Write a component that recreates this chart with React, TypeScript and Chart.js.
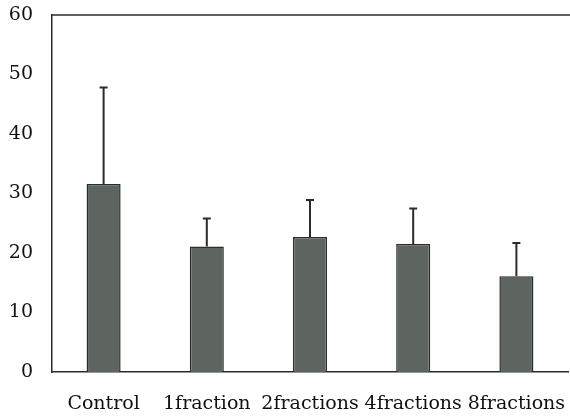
import React, { useEffect, useRef } from "react";
import { Chart, registerables } from "chart.js";

Chart.register(...registerables);

const categories = ["Control", "1fraction", "2fractions", "4fractions", "8fractions"];
const means = [31.6, 21.1, 22.7, 21.5, 16.1];
const errorTops = [47.8, 25.8, 28.9, 27.5, 21.7];
const yTicks = [0, 10, 20, 30, 40, 50, 60];

const errorBarPlugin = {
  id: "errorBars",
  afterDatasetsDraw(chart: any) {
    const { ctx, scales } = chart;
    const meta = chart.getDatasetMeta(0);
    const y = scales.y;
    ctx.save();
    ctx.strokeStyle = "#2b2b2b";
    ctx.lineWidth = 2;
    meta.data.forEach((bar: any, i: number) => {
      const x = bar.x;
      const yTop = y.getPixelForValue(errorTops[i]);
      const yBar = y.getPixelForValue(means[i]);
      ctx.beginPath();
      ctx.moveTo(x, yBar);
      ctx.lineTo(x, yTop);
      ctx.moveTo(x - 4, yTop);
      ctx.lineTo(x + 4, yTop);
      ctx.stroke();
    });
    ctx.restore();
  },
  afterDraw(chart: any) {
    const { ctx, chartArea } = chart;
    ctx.save();
    ctx.strokeStyle = "#2b2b2b";
    ctx.lineWidth = 1.5;
    ctx.beginPath();
    ctx.moveTo(chartArea.left, chartArea.top);
    ctx.lineTo(chart.width, chartArea.top);
    ctx.stroke();
    ctx.restore();
  },
};

export default function App() {
  const ref = useRef<HTMLCanvasElement>(null);
  useEffect(() => {
    document.body.style.margin = "0";
    const chart = new Chart(ref.current!, {
      type: "bar",
      data: {
        labels: categories,
        datasets: [
          {
            data: means,
            backgroundColor: "#5e6561",
            borderColor: "#2b2e2c",
            borderWidth: 1.5,
            categoryPercentage: 1,
            barPercentage: 0.33,
          },
        ],
      },
      options: {
        animation: false,
        responsive: false,
        maintainAspectRatio: false,
        layout: { padding: { top: 15, right: 2, left: 0, bottom: 0 } },
        plugins: { legend: { display: false }, tooltip: { enabled: false } },
        scales: {
          x: {
            grid: { display: false, drawTicks: false },
            border: { display: true, color: "#2b2b2b", width: 1.5 },
            ticks: {
              color: "#111",
              font: { family: "DejaVu Serif", size: 19 },
              padding: 21,
              autoSkip: false,
              maxRotation: 0,
              minRotation: 0,
            },
            afterFit: (s: any) => {
              s.height = 44;
              s.paddingLeft = 0;
              s.paddingRight = 0;
            },
          },
          y: {
            min: 0,
            max: 60,
            afterBuildTicks: (s: any) => {
              s.ticks = yTicks.map((v) => ({ value: v }));
            },
            grid: { display: false, drawTicks: false },
            border: { display: true, color: "#2b2b2b", width: 1.5 },
            ticks: {
              color: "#111",
              font: { family: "DejaVu Serif", size: 19 },
              padding: 19,
            },
            afterFit: (s: any) => {
              s.width = 52;
              s.paddingTop = 0;
              s.paddingBottom = 0;
            },
          },
        },
      },
      plugins: [errorBarPlugin],
    });
    return () => chart.destroy();
  }, []);
  return (
    <div style={{ width: 570, height: 416 }}>
      <canvas ref={ref} width={570} height={416} style={{ width: 570, height: 416 }} />
    </div>
  );
}
